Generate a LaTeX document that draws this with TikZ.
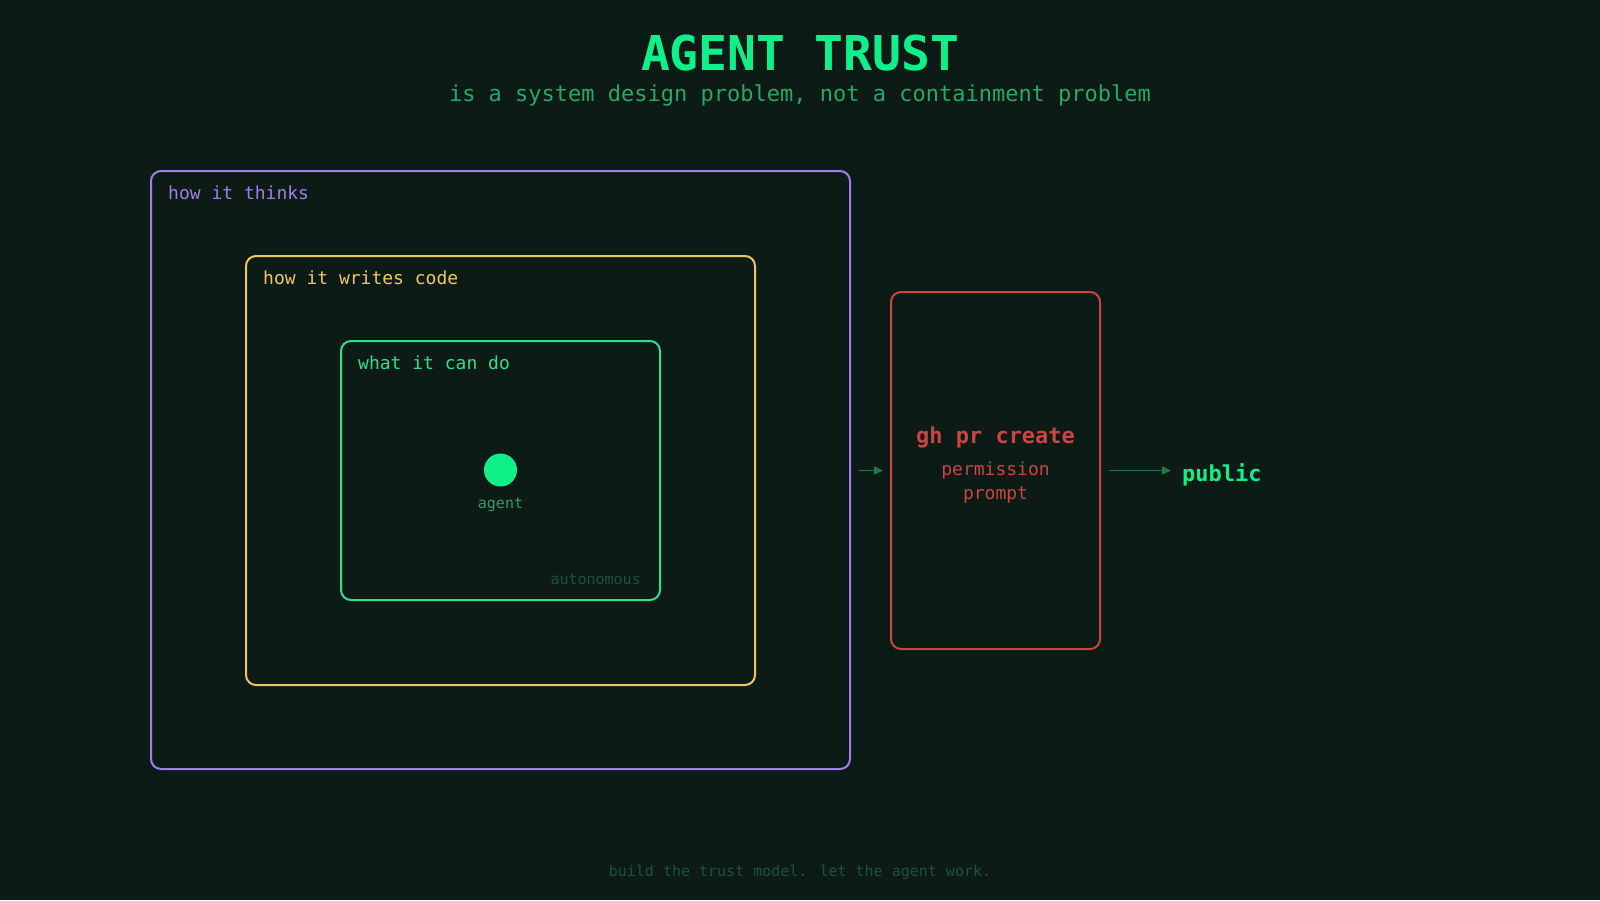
\documentclass[tikz,border=0pt]{standalone}
\usepackage{fontspec}
\setmainfont{DejaVu Sans Mono}
\usetikzlibrary{arrows.meta}
\definecolor{bg}{HTML}{0D1B17}
\definecolor{titlegreen}{HTML}{10F088}
\definecolor{subgreen}{HTML}{27A865}
\definecolor{purp}{HTML}{A07DE8}
\definecolor{yel}{HTML}{F0C75E}
\definecolor{boxgreen}{HTML}{2FE08A}
\definecolor{redc}{HTML}{CC4444}
\definecolor{arrowgreen}{HTML}{1F7A4C}
\definecolor{dimgreen}{HTML}{1E5238}
\definecolor{agentlbl}{HTML}{2F9E68}
\tikzset{
  layer/.style={draw=#1, line width=2pt, rounded corners=10pt, rectangle, inner sep=0pt},
  boxlabel/.style={anchor=base west, inner sep=0pt, text=#1, font=\fontsize{18}{22}\selectfont},
  flow/.style={draw=arrowgreen, line width=1.5pt, -{Triangle[length=9pt,width=8pt]}},
  centred/.style={anchor=base, inner sep=0pt},
}
\begin{document}
\begin{tikzpicture}[x=1pt,y=-1pt]
\fill[bg] (0,0) rectangle (1600,900);
\useasboundingbox (0,0) rectangle (1600,900);

% title
\node[centred, text=titlegreen, font=\fontsize{48}{56}\selectfont\bfseries] (title) at (800,70) {AGENT TRUST};
\node[centred, text=subgreen, font=\fontsize{22}{26}\selectfont] (subtitle) at (800,101) {is a system design problem, not a containment problem};

% nested boxes
\node[layer=purp, minimum width=699pt, minimum height=598pt] (think) at (500.5,470) {};
\node[layer=yel, minimum width=509pt, minimum height=429pt] (write) at (500.5,470.5) {};
\node[layer=boxgreen, minimum width=319pt, minimum height=259pt] (can) at (500.5,470.5) {};

\node[boxlabel=purp] (thinklbl) at (168,199) {how it thinks};
\node[boxlabel=yel] (writelbl) at (263,284) {how it writes code};
\node[boxlabel=boxgreen] (canlbl) at (358,369) {what it can do};

% agent
\node[circle, fill=titlegreen, minimum size=33pt, inner sep=0pt] (agent) at (500.5,470) {};
\node[centred, text=agentlbl, font=\fontsize{15}{18}\selectfont] (agentlbl) at (500.5,508) {agent};
\node[anchor=base east, inner sep=0pt, text=dimgreen, font=\fontsize{15}{18}\selectfont] (auto) at (641,584) {autonomous};

% red gate
\node[layer=redc, minimum width=209pt, minimum height=357pt] (gate) at (995.5,470.5) {};
\node[centred, text=redc, font=\fontsize{22}{26}\selectfont\bfseries] (gh) at (995.5,443) {gh pr create};
\node[centred, text=redc, font=\fontsize{18}{22}\selectfont] (perm) at (995.5,475) {permission};
\node[centred, text=redc, font=\fontsize{18}{22}\selectfont] (prompt) at (995.5,499) {prompt};

% public
\node[anchor=base west, inner sep=0pt, text=titlegreen, font=\fontsize{22}{26}\selectfont\bfseries] (public) at (1182,481) {public};

% arrows
\coordinate (mid) at (0,470.5);
\draw[flow, shorten <=8pt, shorten >=7pt] (think.east |- mid) -- (gate.west |- mid);
\draw[flow, shorten <=8pt, shorten >=11pt] (gate.east |- mid) -- (public.west |- mid);

% footer
\node[centred, text=dimgreen, font=\fontsize{15}{18}\selectfont] (footer) at (800,876) {build the trust model. let the agent work.};
\end{tikzpicture}
\end{document}
